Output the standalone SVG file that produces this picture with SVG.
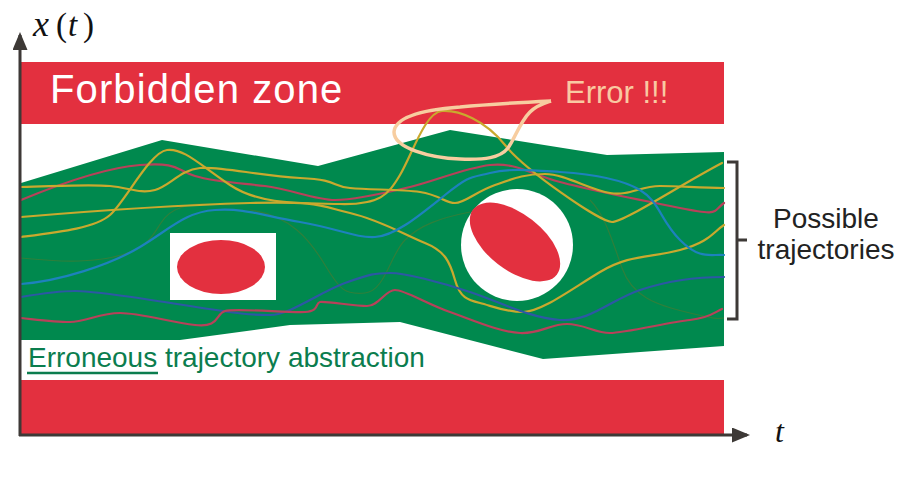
<svg xmlns="http://www.w3.org/2000/svg" width="911" height="479" viewBox="0 0 911 479">
<defs>
<style>
.red{fill:#e3303f}
.traj{fill:none;stroke-width:2.2;stroke-linecap:round}
.y{stroke:#c9a92e}
.r{stroke:#b8415a}
.b1{stroke:#1d82bd}
.b2{stroke:#2c58a4}
.f{fill:none;stroke:#4f7a2e;stroke-width:1.2;opacity:0.6}
.axis{stroke:#3d3936;stroke-width:3;fill:none}
.lbl{font-family:"Liberation Sans",Arial,sans-serif}
.math{font-family:"Liberation Serif","Times New Roman",serif}
</style>
<marker id="arr" markerWidth="6" markerHeight="5" refX="5" refY="2.5" orient="auto" markerUnits="strokeWidth">
<path d="M0,0 L6,2.5 L0,5 Z" fill="#3d3936"/>
</marker>
</defs>
<rect width="911" height="479" fill="#ffffff"/>

<g id="forbidden-top">
<rect class="red" x="21" y="62" width="703" height="62"/>
<text class="lbl" x="50" y="103" font-size="40" letter-spacing="1.1" fill="#ffffff">Forbidden zone</text>
</g>
<g id="forbidden-bottom">
<rect class="red" x="21" y="380" width="703" height="54"/>
</g>

<g id="abstraction">
<polygon fill="#00894e" points="21,183 162,140 318,166 450,130 607,155 724,152 724,346 543,359 400,322 290,325 180,340 21,340"/>
</g>

<g id="obstacle-rect">
<rect x="170" y="233" width="106" height="67" fill="#ffffff"/>
<ellipse class="red" cx="221" cy="267" rx="44" ry="27"/>
</g>
<g id="obstacle-circle">
<circle cx="517" cy="245" r="56" fill="#ffffff"/>
<ellipse class="red" cx="515" cy="242" rx="53" ry="28" transform="rotate(38 515 242)"/>
</g>

<g id="trajectories">
<path class="f" d="M21,258 C60,262 100,264 130,252 S155,220 175,210 S210,205 230,205"/>
<path class="f" d="M250,210 C290,215 310,240 325,265 S345,295 365,293 S390,255 405,240 S440,218 470,212"/>
<path class="f" d="M590,200 C605,215 612,240 622,268 S655,305 690,313 S715,318 724,318"/>
<path class="traj r" d="M21,200 C50,188 100,168 140,165 S175,170 195,176 S240,183 265,186 S315,200 335,200 S385,193 410,187 S465,168 490,165 S530,174 560,182 S640,200 680,208 S712,212 724,203"/>
<path class="traj y" d="M21,187 C60,186 90,184 110,186 S140,194 155,190 S180,170 200,168 S260,176 300,178 S330,186 350,188 S400,189 420,192 S445,203 455,203 S475,192 495,185 S525,174 545,174 S590,190 610,193 S640,186 660,186 S700,188 724,188"/>
<path class="traj y" d="M21,217 C80,212 180,205 250,203 S320,206 350,213 S405,235 425,243 S450,262 455,280 S468,300 480,303 S505,312 523,312 S570,290 600,272 S650,258 680,250 S713,232 724,225"/>
<path class="traj y" d="M21,237 C60,232 95,228 110,215 S150,152 167,150 S200,165 230,185 S300,203 340,204 S388,195 400,175 S425,112 442,111 S485,120 505,145 S600,222 612,222 S680,185 722,163"/>
<path class="traj b1" d="M21,284 C60,281 110,265 140,247 S185,212 215,210 S260,215 300,222 S355,238 375,237 S420,215 445,195 S470,178 490,173 S530,170 560,172 S620,178 640,190 S660,220 680,240 S710,254 724,255"/>
<path class="traj b2" d="M21,297 C45,293 60,291 75,291 S140,298 190,306 S250,315 270,315 S320,292 345,283 S375,273 390,273 S440,282 470,292 S530,318 560,320 S610,300 640,290 S700,277 724,277"/>
<path class="traj r" d="M21,318 C40,320 55,322 70,322 S100,313 120,313 S170,322 195,325 S215,314 225,311 S290,313 305,312 S315,303 320,302 S355,306 367,306 S385,290 395,290 S425,303 450,312 S500,332 520,333 S550,324 567,324 S595,333 610,333 S670,322 690,320 S715,312 722,309"/>
</g>

<g id="error">
<path d="M551,101 C530,102 490,104 460,107 C420,110 395,118 394,132 C394,148 430,158 460,159 C485,160 500,158 508,148 C515,138 520,122 530,112 C537,105 545,103 551,101" fill="none" stroke="#f7cda0" stroke-width="3.5" stroke-linejoin="round"/>
<text class="lbl" x="565" y="103" font-size="31" fill="#f9c9a2">Error !!!</text>
</g>

<g id="label-abstraction">
<text class="lbl" x="28" y="367" font-size="28" fill="#0b7d4e">Erroneous trajectory abstraction</text>
<line x1="27" y1="373" x2="158" y2="373" stroke="#0b7d4e" stroke-width="2.5"/>
</g>

<g id="bracket">
<path d="M727,162 H737 V319 H727 M737,240 H747" fill="none" stroke="#3d3936" stroke-width="3"/>
<text class="lbl" x="826" y="228" font-size="28" fill="#222222" text-anchor="middle">Possible</text>
<text class="lbl" x="826" y="259" font-size="28" fill="#222222" text-anchor="middle">trajectories</text>
</g>

<g id="axes">
<line class="axis" x1="20" y1="436" x2="20" y2="35" marker-end="url(#arr)"/>
<line class="axis" x1="19" y1="435" x2="747" y2="435" marker-end="url(#arr)"/>
<text class="math" x="33" y="36" font-size="33" fill="#111111"><tspan font-style="italic" font-size="36">x</tspan><tspan x="56">(</tspan><tspan x="68" font-style="italic">t</tspan><tspan x="83">)</tspan></text>
<text class="math" x="775" y="442" font-size="32" font-style="italic" fill="#111111">t</text>
</g>
</svg>
